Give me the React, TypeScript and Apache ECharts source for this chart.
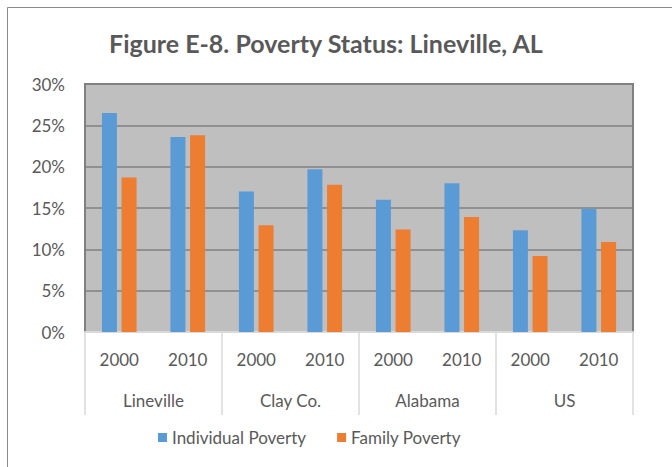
import React, { useEffect, useRef } from "react";
import * as echarts from "echarts";

const years = ["2000", "2010", "2000", "2010", "2000", "2010", "2000", "2010"];
const places = ["Lineville", "Clay Co.", "Alabama", "US"];
const individualPoverty = [26.5, 23.6, 17.0, 19.7, 16.0, 18.0, 12.3, 14.9];
const familyPoverty = [18.7, 23.8, 12.9, 17.8, 12.4, 13.9, 9.2, 10.9];
const seriesNames = ["Individual Poverty", "Family Poverty"];
const titleText = "Figure E-8. Poverty Status: Lineville, AL";

const FONT = "Lato, 'Open Sans', sans-serif";
const TEXT = "#595959";

export default function App() {
  const ref = useRef<HTMLDivElement>(null);
  useEffect(() => {
    document.body.style.margin = "0";
    const chart = echarts.init(ref.current!, null, { renderer: "svg" });
    chart.setOption({
      animation: false,
      backgroundColor: "#ffffff",
      textStyle: { fontFamily: FONT, color: TEXT },
      title: {
        text: titleText,
        left: 109,
        top: 30,
        padding: 0,
        textStyle: { fontFamily: FONT, fontWeight: "bold", fontSize: 25, color: TEXT },
      },
      legend: {
        data: seriesNames,
        left: 158,
        top: 429,
        padding: 0,
        icon: "rect",
        itemWidth: 9,
        itemHeight: 9,
        itemGap: 31,
        textStyle: { fontFamily: FONT, fontSize: 17, color: TEXT },
      },
      graphic: [
        {
          type: "rect",
          shape: { x: 7.5, y: 7.5, width: 800, height: 600 },
          style: { fill: "none", stroke: "#8a8a8a", lineWidth: 1 },
          silent: true,
        },
      ],
      grid: {
        left: 85,
        right: 39,
        top: 84,
        bottom: 135,
        show: true,
        backgroundColor: "#bfbfbf",
        borderColor: "#808080",
        borderWidth: 2,
      },
      xAxis: [
        {
          type: "category",
          data: years,
          position: "bottom",
          axisLine: { show: true, lineStyle: { color: "#d9d9d9", width: 2 } },
          axisTick: { show: false },
          axisLabel: { margin: 19, fontFamily: FONT, fontSize: 17, color: TEXT },
        },
        {
          type: "category",
          data: places,
          position: "bottom",
          axisLine: { show: false },
          axisTick: {
            show: true,
            length: 83,
            alignWithLabel: false,
            interval: 0,
            lineStyle: { color: "#d9d9d9", width: 1.5 },
          },
          axisLabel: { margin: 60, fontFamily: FONT, fontSize: 17, color: TEXT },
        },
      ],
      yAxis: {
        type: "value",
        min: 0,
        max: 30,
        interval: 5,
        axisLine: { show: false },
        axisTick: { show: false },
        axisLabel: {
          margin: 20,
          formatter: "{value}%",
          fontFamily: FONT,
          fontSize: 17,
          color: TEXT,
        },
        splitLine: { show: true, lineStyle: { color: "#808080", width: 1.5 } },
      },
      series: [
        {
          name: seriesNames[0],
          type: "bar",
          xAxisIndex: 0,
          data: individualPoverty,
          barWidth: 15,
          barGap: "31%",
          itemStyle: { color: "#5b9bd5" },
        },
        {
          name: seriesNames[1],
          type: "bar",
          xAxisIndex: 0,
          data: familyPoverty,
          barWidth: 15,
          barGap: "31%",
          itemStyle: { color: "#ed7d31" },
        },
      ],
    });
    return () => chart.dispose();
  }, []);
  return <div ref={ref} style={{ width: 672, height: 467 }} />;
}
